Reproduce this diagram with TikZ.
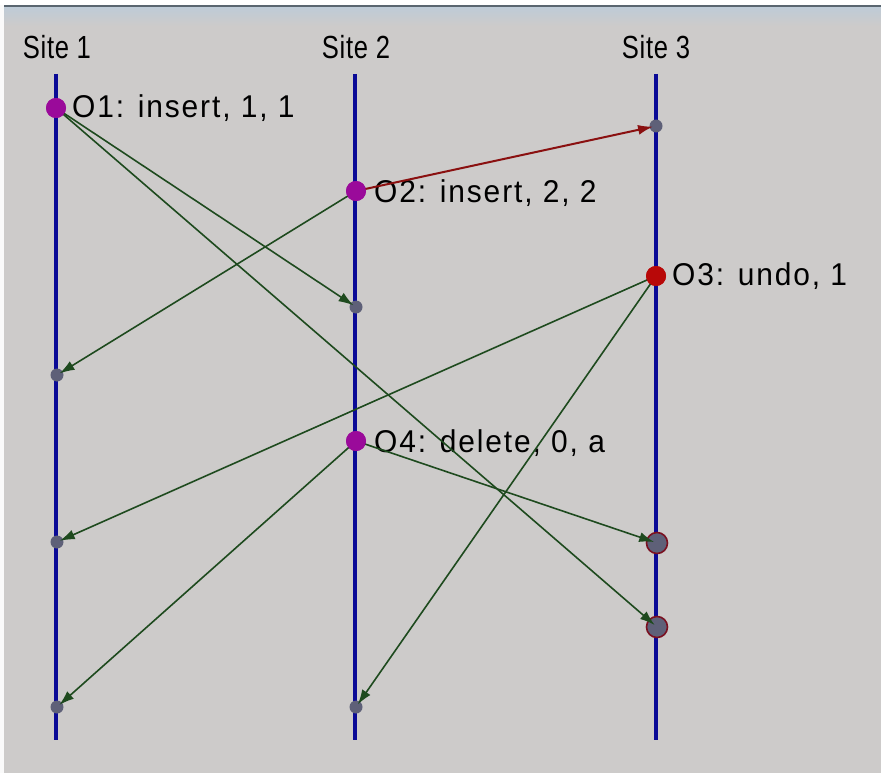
\documentclass[tikz,border=0pt]{standalone}
\usepackage{fontspec}
\setmainfont{Liberation Sans}
\newfontfamily\lblfont[FakeStretch=0.95,LetterSpace=6]{Liberation Sans}
\newfontfamily\sitefont[FakeStretch=0.8,LetterSpace=2]{Liberation Sans}
\usetikzlibrary{arrows.meta}
\definecolor{bg}{HTML}{CDCBCA}
\definecolor{siteblue}{HTML}{0A0A96}
\definecolor{evmag}{HTML}{9A0A9A}
\definecolor{evred}{HTML}{B80808}
\definecolor{rcv}{HTML}{5E6078}
\definecolor{msggreen}{HTML}{1E4A1E}
\definecolor{msgred}{HTML}{8A1010}
\definecolor{topline}{HTML}{5A6670}
\definecolor{topband}{HTML}{BFCBD6}
\definecolor{circred}{HTML}{7A1020}
\tikzset{
  sitelabel/.style={font=\sitefont\fontsize{32}{34}\selectfont, inner sep=0pt},
  oplabel/.style={font=\lblfont\fontsize{31.5}{34}\selectfont, inner sep=0pt, anchor=west},
  siteline/.style={line width=4pt, draw=siteblue},
  genev/.style={circle, fill=evmag, minimum size=20pt, inner sep=0pt},
  undoev/.style={circle, fill=evred, minimum size=20pt, inner sep=0pt},
  rcvev/.style={circle, fill=rcv, minimum size=13pt, inner sep=0pt},
  circev/.style={circle, fill=rcv, draw=circred, line width=1.6pt, minimum size=21pt, inner sep=0pt},
  msg/.style={draw=msggreen, line width=1.6pt, -{Latex[length=15pt,width=10pt]}, shorten >=3pt, shorten <=2pt},
  msgr/.style={draw=msgred, line width=2pt, -{Latex[length=15pt,width=10pt]}, shorten >=3pt, shorten <=2pt},
}
\begin{document}
\begin{tikzpicture}[x=1pt,y=-1pt]
\useasboundingbox (0,0) rectangle (881,773);
\fill[bg] (0,0) rectangle (881,773);
\fill[white] (0,0) rectangle (881,5);
\fill[topline] (0,5) rectangle (881,8);
\shade[top color=topband, bottom color=bg] (0,8) rectangle (881,26);
\fill[white!90!bg] (0,5) rectangle (4,773);

% site labels
\node[sitelabel] (s1) at (57,47) {Site 1};
\node[sitelabel] (s2) at (356,47) {Site 2};
\node[sitelabel] (s3) at (656,47) {Site 3};

% site lines
\coordinate (t1) at (56,74); \coordinate (b1) at (56,740);
\coordinate (t2) at (355,74); \coordinate (b2) at (355,740);
\coordinate (t3) at (656,74); \coordinate (b3) at (656,740);
\draw[siteline] (t1) -- (b1);
\draw[siteline] (t2) -- (b2);
\draw[siteline] (t3) -- (b3);

% events
\node[genev] (o1) at (56,108) {};
\node[genev] (o2) at (356,191) {};
\node[undoev] (o3) at (656,276) {};
\node[genev] (o4) at (356,441) {};

\node[rcvev] (r1a) at (57,375) {};
\node[rcvev] (r1b) at (57,542) {};
\node[rcvev] (r1c) at (57,707) {};
\node[rcvev] (r2a) at (356,307) {};
\node[rcvev] (r2b) at (356,707) {};
\node[rcvev] (r3a) at (656,126) {};
\node[circev] (r3b) at (657,543) {};
\node[circev] (r3c) at (657,627) {};

% labels
\node[oplabel] (l1) at (72,108) {O1: insert, 1, 1};
\node[oplabel] (l2) at (374,193) {O2: insert, 2, 2};
\node[oplabel] (l3) at (672,276) {O3: undo, 1};
\node[oplabel] (l4) at (374,443) {O4: delete, 0, a};

% messages
\draw[msg] (o1.center) -- (r2a.center);
\draw[msg] (o1.center) -- (r3c.center);
\draw[msgr] (o2.center) -- (r3a.center);
\draw[msg] (o2.center) -- (r1a.center);
\draw[msg] (o3.center) -- (r1b.center);
\draw[msg] (o3.center) -- (r2b.center);
\draw[msg] (o4.center) -- (r3b.center);
\draw[msg] (o4.center) -- (r1c.center);

% redraw dots on top
\node[genev] at (o1) {};
\node[genev] at (o2) {};
\node[undoev] at (o3) {};
\node[genev] at (o4) {};
\end{tikzpicture}
\end{document}
